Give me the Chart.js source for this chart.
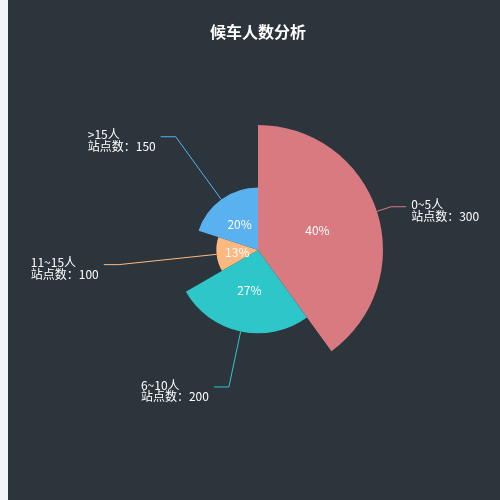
<!DOCTYPE html>
<html>
<head>
<meta charset="utf-8">
<title>候车人数分析</title>
<script src="https://cdn.jsdelivr.net/npm/chart.js@4.4.0/dist/chart.umd.min.js"></script>
<style>
  html, body { margin: 0; padding: 0; background: #f2f4f8; }
  #wrap { position: relative; width: 500px; height: 500px; }
</style>
</head>
<body>
<div id="wrap"><canvas id="chart"></canvas></div>
<script>
// data
var categories = ['0~5人', '6~10人', '11~15人', '>15人'];
var stations = [300, 200, 100, 150];
var colors = ['#d87a80', '#2ec7c9', '#ffb980', '#5ab1ef'];

var total = stations.reduce(function(a, b) { return a + b; }, 0);
var fontFamily = "'Noto Sans CJK SC', 'Noto Sans', sans-serif";

// dark panel with the thin light page strip on the left
var background = {
    id: 'background',
    beforeDraw: function(chart) {
        var ctx = chart.ctx;
        ctx.save();
        ctx.fillStyle = '#f2f4f8';
        ctx.fillRect(0, 0, chart.width, chart.height);
        ctx.fillStyle = '#2c343c';
        ctx.fillRect(8, 0, chart.width - 8, chart.height);
        ctx.restore();
    }
};

// percent inside, name + count outside with a leader line
var sliceLabels = {
    id: 'sliceLabels',
    afterDatasetsDraw: function(chart) {
        var ctx = chart.ctx;
        var maxR = chart.scales.r.drawingArea;
        var arcs = chart.getDatasetMeta(0).data;
        ctx.save();
        arcs.forEach(function(arc, i) {
            var p = arc.getProps(['x', 'y', 'startAngle', 'endAngle', 'outerRadius'], true);
            var mid = (p.startAngle + p.endAngle) / 2;
            var dx = Math.cos(mid), dy = Math.sin(mid);

            // inside percent
            ctx.fillStyle = '#fff';
            ctx.font = '12px ' + fontFamily;
            ctx.textAlign = 'center';
            ctx.textBaseline = 'middle';
            var pct = Math.round(stations[i] / total * 100) + '%';
            ctx.fillText(pct, p.x + dx * p.outerRadius / 2, p.y + dy * p.outerRadius / 2);

            // leader line
            var x1 = p.x + dx * p.outerRadius, y1 = p.y + dy * p.outerRadius;
            var x2 = p.x + dx * (maxR + 15), y2 = p.y + dy * (maxR + 15);
            var side = dx >= 0 ? 1 : -1;
            var x3 = x2 + side * 15;
            ctx.strokeStyle = colors[i];
            ctx.lineWidth = 1;
            ctx.beginPath();
            ctx.moveTo(x1, y1);
            ctx.lineTo(x2, y2);
            ctx.lineTo(x3, y2);
            ctx.stroke();

            // outside text: block sits beside the line, lines left aligned
            var lines = [categories[i], '站点数：' + stations[i]];
            var w = Math.max(ctx.measureText(lines[0]).width, ctx.measureText(lines[1]).width);
            var tx = side > 0 ? x3 + 5 : x3 - 5 - w;
            ctx.fillStyle = '#fff';
            ctx.textAlign = 'left';
            ctx.fillText(lines[0], tx, y2 - 2);
            ctx.fillText(lines[1], tx, y2 + 9.5);
        });
        ctx.restore();
    }
};

new Chart(document.getElementById('chart'), {
    type: 'polarArea',
    data: {
        labels: categories,
        datasets: [{
            data: stations,
            backgroundColor: colors,
            borderWidth: 0,
            // angle proportional to value, radius proportional to value (rose)
            angle: function(ctx) { return stations[ctx.dataIndex] / total * 360; }
        }]
    },
    options: {
        responsive: true,
        maintainAspectRatio: false,
        animation: false,
        layout: { padding: { left: 133, right: 117, top: 0, bottom: 125 } },
        scales: {
            r: { display: false, min: 0, max: Math.max.apply(null, stations) }
        },
        plugins: {
            legend: { display: false },
            tooltip: { enabled: false },
            title: {
                display: true,
                text: '候车人数分析',
                color: '#fff',
                font: { size: 16, weight: 'bold', family: fontFamily },
                padding: { top: 22, bottom: 83.8 }
            }
        }
    },
    plugins: [background, sliceLabels]
});
</script>
</body>
</html>
